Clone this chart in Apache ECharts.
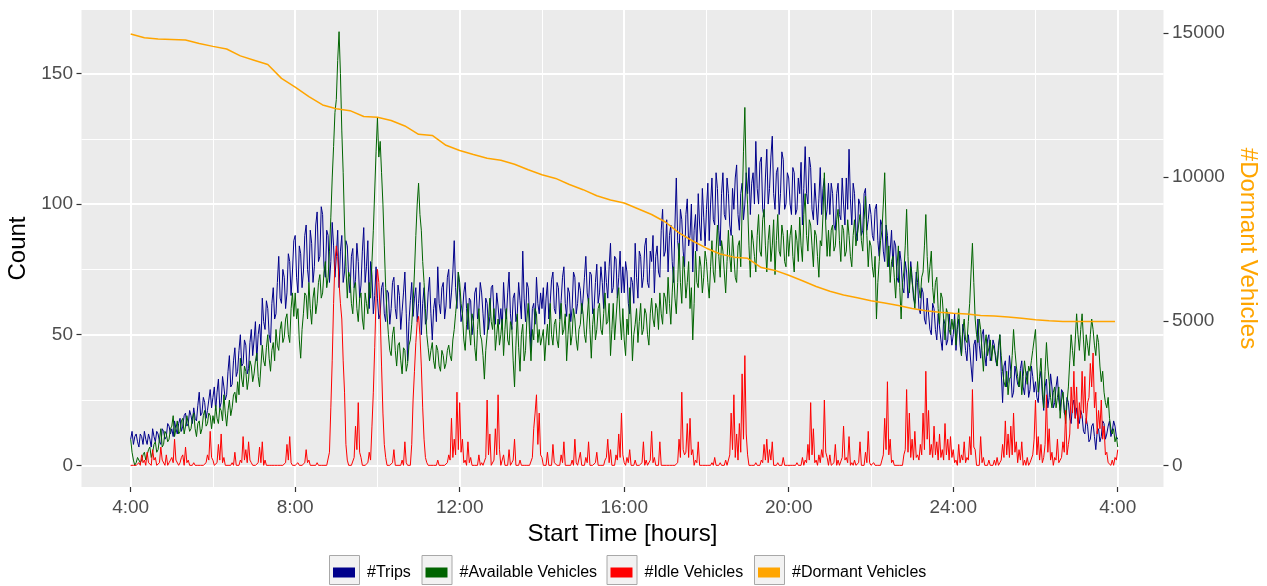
<!DOCTYPE html>
<html>
<head>
<meta charset="utf-8">
<script src="https://cdn.jsdelivr.net/npm/echarts@6/dist/echarts.min.js"></script>
<style>
html,body{margin:0;padding:0;background:#ffffff;}
#chart{width:1267px;height:586px;}
</style>
</head>
<body>
<div id="chart"></div>
<script>
// ---- DATA ----
// sampling step (minutes after 4:00) of the count series below
const stepMinutes = 2;

// one row per hour, starting 4:00
const trips = [
  10,13,8,11,12,9,7,12,11,8,13,10,8,12,10,7,14,11,9,13,12,9,8,14,13,10,11,16,15,12,
  14,11,17,14,12,16,18,13,15,19,20,15,16,21,19,16,22,18,17,23,28,19,20,26,24,18,21,25,29,22,
  26,30,21,28,33,22,24,34,30,25,27,36,42,30,31,40,45,34,36,44,50,38,39,48,46,35,37,47,52,42,
  48,55,40,50,54,46,64,55,52,63,60,50,47,62,68,56,58,70,80,64,62,75,72,60,66,81,78,65,74,86,
  88,72,66,84,81,68,74,88,92,75,70,90,85,70,76,92,97,78,80,99,96,76,72,90,88,70,78,93,84,72,
  80,90,68,82,88,70,74,86,84,72,66,80,83,68,71,85,78,64,69,82,91,70,76,86,60,78,73,58,65,76,
  64,56,58,68,70,58,55,67,66,54,60,70,72,60,56,69,65,52,59,66,74,58,40,55,63,70,57,64,68,55,
  62,70,50,62,68,54,56,66,72,58,48,60,64,55,76,62,58,68,70,56,61,72,75,60,66,74,86,68,60,74,
  66,55,58,66,70,60,52,64,63,50,55,66,68,56,60,70,66,58,50,64,62,52,57,68,69,58,54,66,61,54,
  60,52,70,60,56,66,74,58,52,64,66,55,58,70,63,56,82,64,55,70,68,56,44,60,62,54,72,62,58,66,
  60,68,54,64,70,56,62,71,74,60,58,70,68,56,63,72,76,62,57,68,66,55,60,74,72,58,62,70,67,58,
  64,72,80,66,62,74,73,58,60,70,77,62,66,76,70,60,78,70,64,76,85,66,68,80,79,64,72,82,66,76,
  66,78,74,62,58,72,70,62,85,72,64,82,80,68,72,84,87,70,68,82,78,88,66,80,84,74,72,90,98,80,
  82,94,74,88,92,78,70,92,110,86,80,98,94,82,76,96,102,84,88,100,74,90,96,82,104,92,86,106,95,84,
  98,108,86,100,110,94,92,112,106,90,84,104,112,96,94,110,104,92,88,106,98,110,115,96,90,104,108,94,100,112,
  104,114,96,108,112,100,124,106,100,116,118,98,95,110,121,100,106,118,126,104,98,112,114,96,104,120,117,98,100,112,
  110,100,96,114,112,96,98,110,104,116,92,106,122,104,100,118,114,98,94,108,108,92,102,114,96,106,110,94,98,108,
  96,108,104,92,90,104,108,96,94,110,100,92,110,98,121,102,92,108,104,90,86,102,100,88,90,104,106,90,94,100,
  96,88,86,98,100,86,80,94,92,82,78,92,88,76,82,90,76,86,84,72,70,82,78,68,66,78,74,64,68,78,
  72,64,62,74,70,60,58,68,66,56,54,64,64,52,50,62,60,52,48,58,58,48,44,56,54,46,48,58,52,46,
  50,58,44,52,56,46,42,54,50,44,40,50,45,38,32,46,48,40,56,46,41,50,52,42,38,48,50,40,42,48,
  46,40,38,46,50,36,24,38,40,30,32,42,36,26,28,38,38,31,30,37,40,30,27,34,36,26,29,38,34,28,
  32,26,24,33,36,27,21,30,33,22,26,35,30,22,24,30,34,25,21,29,28,20,19,26,24,18,16,23,25,18,
  22,17,16,21,19,13,12,18,15,9,10,15,16,11,6,13,14,9,11,17,16,10,12,15,17,11,13,17,15,11,
  10
];

const available = [
  10,5,2,0,1,3,3,1,2,4,5,2,4,6,7,3,5,8,9,5,6,10,14,7,8,13,12,9,10,14,
  15,19,11,14,17,12,13,17,18,12,15,19,19,13,14,18,20,14,11,16,17,12,14,19,21,15,16,20,19,14,
  19,16,23,18,16,22,21,17,27,20,15,21,25,19,22,27,28,24,32,27,41,33,30,38,36,29,33,40,38,32,
  35,40,43,34,30,38,46,40,38,45,50,41,36,44,47,40,52,46,44,52,55,47,49,56,58,50,47,60,66,57,
  66,56,60,48,41,52,58,66,65,56,70,60,54,64,68,58,62,70,73,64,66,74,78,68,72,82,95,110,122,135,
  140,155,166,150,128,112,92,76,64,74,72,62,58,68,70,60,55,64,66,56,52,66,62,58,70,64,78,90,105,120,
  133,118,124,112,100,84,68,58,50,44,42,50,53,44,38,46,47,40,35,45,44,36,39,46,48,54,62,74,88,100,
  108,96,90,78,70,60,50,45,40,44,47,40,37,46,44,38,36,44,42,37,39,44,46,42,40,48,52,58,64,74,
  70,62,58,48,44,54,62,52,46,58,55,45,40,52,60,50,48,42,33,44,50,56,64,55,52,60,44,50,56,46,
  50,56,42,52,60,48,46,55,53,40,30,46,58,45,36,50,54,40,44,56,62,50,40,52,48,60,58,47,52,46,
  46,52,40,48,54,46,62,50,46,54,56,48,45,55,62,50,52,58,40,50,58,46,50,60,56,48,44,52,54,62,
  58,50,47,56,64,52,41,54,60,48,52,60,62,52,50,58,66,54,55,62,42,52,62,48,56,64,68,56,48,60,
  48,42,56,50,68,56,40,50,54,60,47,55,62,50,52,60,58,50,46,58,64,56,53,62,60,52,66,58,54,66,
  64,58,72,62,54,66,76,64,58,70,85,70,62,80,74,64,70,78,60,68,48,62,82,70,68,80,76,66,72,82,
  78,70,64,76,86,74,70,82,92,80,72,86,82,74,66,78,90,80,74,88,80,72,70,84,86,76,98,120,137,110,
  100,84,72,90,86,80,74,88,96,82,80,94,98,84,74,86,92,78,84,94,73,86,96,82,80,92,88,78,76,90,
  80,88,92,80,74,90,86,78,95,84,78,96,104,88,82,94,92,84,76,90,88,80,72,86,84,96,112,92,80,90,
  80,90,92,82,84,94,98,86,78,92,90,80,82,94,88,80,76,88,94,84,84,92,96,86,82,94,103,88,76,86,
  84,76,72,80,56,70,78,86,90,100,112,92,76,84,70,78,80,72,64,76,84,68,56,70,74,84,98,80,66,76,
  70,66,60,70,78,68,64,72,74,84,96,80,70,76,82,68,62,70,72,60,54,66,64,56,48,60,58,52,50,56,
  52,56,46,54,60,50,42,52,56,48,47,55,62,74,85,70,56,50,47,56,52,44,36,46,50,42,45,48,40,46,
  46,42,38,44,50,42,36,32,30,36,27,33,34,42,52,44,38,34,30,36,27,34,40,35,31,38,36,40,44,48,
  52,38,28,34,41,30,22,36,47,38,32,26,22,28,30,22,26,30,18,25,28,22,16,24,30,40,50,44,38,48,
  58,50,44,52,58,48,40,50,46,42,50,56,52,46,42,50,47,38,32,36,28,24,22,26,18,14,12,14,9,11,
  7
];

const idle = [
  0,0,0,0,0,0,1,0,4,1,2,0,5,1,1,0,6,2,3,0,0,1,7,2,2,0,4,0,1,2,
  3,1,10,2,2,0,1,3,4,0,7,1,2,0,0,0,1,0,0,0,0,0,0,0,0,1,4,2,13,3,
  2,0,0,1,8,2,12,1,3,0,0,0,0,0,1,0,5,0,0,0,2,1,11,2,6,1,9,2,1,0,
  0,0,0,1,7,1,9,0,2,0,0,0,0,0,0,0,0,0,0,0,0,0,0,1,8,2,11,1,0,0,
  0,0,1,0,0,0,0,1,6,1,2,0,0,0,0,0,1,0,0,0,0,0,0,0,0,5,22,40,62,78,
  84,80,70,62,56,40,28,8,2,0,0,0,0,3,15,6,24,5,3,0,0,0,0,1,5,2,15,28,45,64,
  75,70,58,38,20,8,3,0,0,0,0,1,6,0,0,0,0,0,2,0,9,1,0,0,0,8,25,36,47,55,
  57,50,38,22,10,3,1,0,0,0,0,0,0,0,2,0,0,0,0,0,0,1,4,2,18,3,10,4,28,6,
  24,5,10,1,2,0,9,1,3,0,0,0,0,0,4,0,1,0,0,3,25,4,12,0,0,2,14,4,27,6,
  0,0,4,0,0,0,6,0,1,2,10,0,0,0,2,0,0,0,0,0,0,0,0,3,14,20,27,8,20,4,
  3,0,0,0,5,0,0,0,8,1,1,0,0,0,4,1,9,0,0,0,0,0,2,0,10,1,0,0,5,0,
  0,0,3,1,9,0,0,0,0,1,5,0,0,0,0,0,2,3,10,1,6,0,0,0,4,2,12,3,20,4,
  1,0,3,1,6,0,0,0,2,0,0,0,0,1,9,0,2,0,0,2,13,1,3,0,0,0,9,0,0,0,
  0,0,0,0,0,0,0,0,0,1,10,3,28,6,4,5,16,3,18,4,6,0,2,1,9,0,0,0,0,0,
  0,0,0,0,1,0,3,0,0,0,1,0,0,0,2,0,0,4,20,6,27,3,12,2,16,5,35,10,42,12,
  4,0,0,0,0,0,1,0,0,0,2,1,8,2,10,1,6,2,9,0,0,0,1,0,0,0,3,0,0,0,
  0,0,0,0,0,0,1,0,0,0,3,0,2,1,8,2,24,4,14,1,2,0,4,1,6,3,25,5,3,0,
  4,0,0,1,8,0,2,0,0,3,15,2,3,1,11,0,1,0,2,0,0,1,9,0,0,0,5,1,13,1,
  0,0,1,0,0,0,0,0,2,4,18,6,32,4,10,1,2,0,0,0,0,0,0,0,4,6,29,5,20,3,
  10,2,13,3,4,2,8,4,20,6,36,10,21,4,8,3,15,4,9,2,12,3,6,2,16,4,10,2,11,3,
  6,1,2,0,8,1,4,2,9,1,3,2,11,4,29,7,6,0,0,0,11,1,3,0,0,0,2,0,0,0,
  2,0,3,0,1,2,8,3,17,4,12,3,15,4,20,5,9,1,6,2,9,0,2,0,3,0,1,1,4,10,
  25,4,11,2,8,1,3,8,27,5,14,2,5,0,3,2,10,1,2,3,9,5,21,4,8,12,30,20,36,18,
  30,14,24,18,36,20,34,16,24,26,39,30,43,22,28,12,21,14,25,10,15,4,5,1,1,0,2,0,3,2,
  6
];

const dormantMinutes = [
  0, 20, 40, 60, 80, 100, 120, 140, 160, 180, 200, 220, 240, 260, 280, 300,
  320, 340, 360, 380, 400, 420, 440, 460, 480, 500, 520, 540, 560, 580, 600,
  620, 640, 660, 680, 700, 720, 740, 760, 780, 800, 820, 840, 860, 880, 900,
  920, 940, 960, 980, 1000, 1020, 1040, 1060, 1080, 1100, 1120, 1140, 1160,
  1180, 1200, 1220, 1240, 1260, 1280, 1300, 1320, 1340, 1360, 1380, 1400,
  1420, 1436
];
const dormant = [
  14960, 14830, 14785, 14770, 14750, 14630, 14530, 14440, 14200, 14050, 13900,
  13420, 13120, 12790, 12500, 12370, 12300, 12100, 12070, 11960, 11770, 11480,
  11440, 11100, 10920, 10780, 10650, 10580, 10440, 10250, 10080, 9950, 9740,
  9560, 9350, 9200, 9100, 8900, 8700, 8440, 8060, 7780, 7530, 7330, 7220, 7180,
  6860, 6760, 6590, 6400, 6200, 6040, 5910, 5810, 5710, 5630, 5540, 5440, 5360,
  5310, 5270, 5245, 5200, 5180, 5145, 5100, 5050, 5010, 4990, 4990, 4990,
  4990, 4990
];

const xTickMinutes = [0, 240, 480, 720, 960, 1200, 1440];
const xTickLabels = ['4:00', '8:00', '12:00', '16:00', '20:00', '24:00', '4:00'];
const xMinorMinutes = [120, 360, 600, 840, 1080, 1320];
const countTicks = [0, 50, 100, 150];
const countMinorTicks = [25, 75, 125];
const dormantTicks = [0, 5000, 10000, 15000];
const seriesNames = ['#Trips', '#Available Vehicles', '#Idle Vehicles', '#Dormant Vehicles'];
const seriesColors = ['#00008B', '#006400', '#FF0000', '#FFA500'];

// ---- CHART ----
const FONT = '"Liberation Sans", Arial, sans-serif';
const chart = echarts.init(document.getElementById('chart'), null, {renderer: 'canvas'});

const xMin = -71.75, xMax = 1506.75;
const cMin = -8.3, cMax = 174.3;
const secFactor = 90.6;

function toPairs(values, step) { return values.map((v, i) => [i * step, v]); }

const keyLeft = [329.5, 422, 607, 754.5];
const noLine = {show: false, onZero: false};

const option = {
  animation: false,
  textStyle: {fontFamily: FONT},
  grid: {left: 81.5, top: 10, width: 1082, height: 477, show: true,
         backgroundColor: '#EBEBEB', borderWidth: 0, containLabel: false, outerBoundsMode: 'none'},
  graphic: keyLeft.map(x => ({
    type: 'rect', z: 0,
    shape: {x: x, y: 555.5, width: 30, height: 29},
    style: {fill: '#F2F2F2', stroke: '#A8A8A8', lineWidth: 1}
  })),
  legend: seriesNames.map((n, i) => ({
    data: [n], left: keyLeft[i] + 3.5, top: 564.5, padding: 0, icon: 'rect',
    itemWidth: 22, itemHeight: 10, selectedMode: false, z: 5,
    itemStyle: {borderWidth: 0},
    textStyle: {fontSize: 16, color: '#000', fontFamily: FONT, padding: [0, 0, 0, 7], lineHeight: 16}
  })),
  xAxis: [
    {
      type: 'value', min: xMin, max: xMax,
      axisLine: noLine,
      axisTick: {show: true, length: 5, lineStyle: {color: '#333333', width: 1.2}, customValues: xTickMinutes},
      axisLabel: {customValues: xTickMinutes, color: '#4D4D4D', fontSize: 19, margin: 11, fontFamily: FONT,
                  formatter: v => xTickLabels[xTickMinutes.indexOf(v)]},
      splitLine: {show: true, lineStyle: {color: '#FFFFFF', width: 2}},
      name: 'Start Time [hours]', nameLocation: 'middle', nameGap: 31,
      nameTextStyle: {fontSize: 24, color: '#000000', fontFamily: FONT}
    },
    {
      type: 'value', min: xMin, max: xMax, show: true,
      axisLine: noLine,
      axisTick: {show: false, customValues: xMinorMinutes},
      axisLabel: {show: false, customValues: xMinorMinutes},
      splitLine: {show: true, lineStyle: {color: '#FFFFFF', width: 1}}
    }
  ],
  yAxis: [
    {
      type: 'value', position: 'left', min: cMin, max: cMax,
      axisLine: noLine,
      axisTick: {show: true, length: 5, lineStyle: {color: '#333333', width: 1.2}, customValues: countTicks},
      axisLabel: {customValues: countTicks, color: '#4D4D4D', fontSize: 19, margin: 8.5, fontFamily: FONT},
      splitLine: {show: true, lineStyle: {color: '#FFFFFF', width: 2}},
      name: 'Count', nameLocation: 'middle', nameGap: 45, nameRotate: 90,
      nameTextStyle: {fontSize: 24, color: '#000000', fontFamily: FONT}
    },
    {
      type: 'value', position: 'right', min: cMin * secFactor, max: cMax * secFactor,
      axisLine: noLine,
      axisTick: {show: true, length: 5, lineStyle: {color: '#333333', width: 1.2}, customValues: dormantTicks},
      axisLabel: {customValues: dormantTicks, color: '#4D4D4D', fontSize: 19, margin: 8.5, fontFamily: FONT,
                  formatter: v => String(v)},
      splitLine: {show: false},
      name: '#Dormant Vehicles', nameLocation: 'middle', nameGap: 70, nameRotate: -90,
      nameTextStyle: {fontSize: 24, color: '#FFA500', fontFamily: FONT}
    },
    {
      type: 'value', position: 'left', min: cMin, max: cMax, show: true,
      axisLine: noLine,
      axisTick: {show: false, customValues: countMinorTicks},
      axisLabel: {show: false, customValues: countMinorTicks},
      splitLine: {show: true, lineStyle: {color: '#FFFFFF', width: 1}}
    }
  ],
  series: [
    {name: seriesNames[0], type: 'line', yAxisIndex: 0, data: toPairs(trips, stepMinutes), showSymbol: false,
     color: seriesColors[0], lineStyle: {width: 1, color: seriesColors[0]}, itemStyle: {color: seriesColors[0]}, z: 2},
    {name: seriesNames[1], type: 'line', yAxisIndex: 0, data: toPairs(available, stepMinutes), showSymbol: false,
     color: seriesColors[1], lineStyle: {width: 1, color: seriesColors[1]}, itemStyle: {color: seriesColors[1]}, z: 3},
    {name: seriesNames[2], type: 'line', yAxisIndex: 0, data: toPairs(idle, stepMinutes), showSymbol: false,
     color: seriesColors[2], lineStyle: {width: 1, color: seriesColors[2]}, itemStyle: {color: seriesColors[2]}, z: 4},
    {name: seriesNames[3], type: 'line', yAxisIndex: 1, data: dormantMinutes.map((m, i) => [m, dormant[i]]),
     showSymbol: false, color: seriesColors[3], lineStyle: {width: 1.5, color: seriesColors[3]},
     itemStyle: {color: seriesColors[3]}, z: 5}
  ]
};
chart.setOption(option);
</script>
</body>
</html>
